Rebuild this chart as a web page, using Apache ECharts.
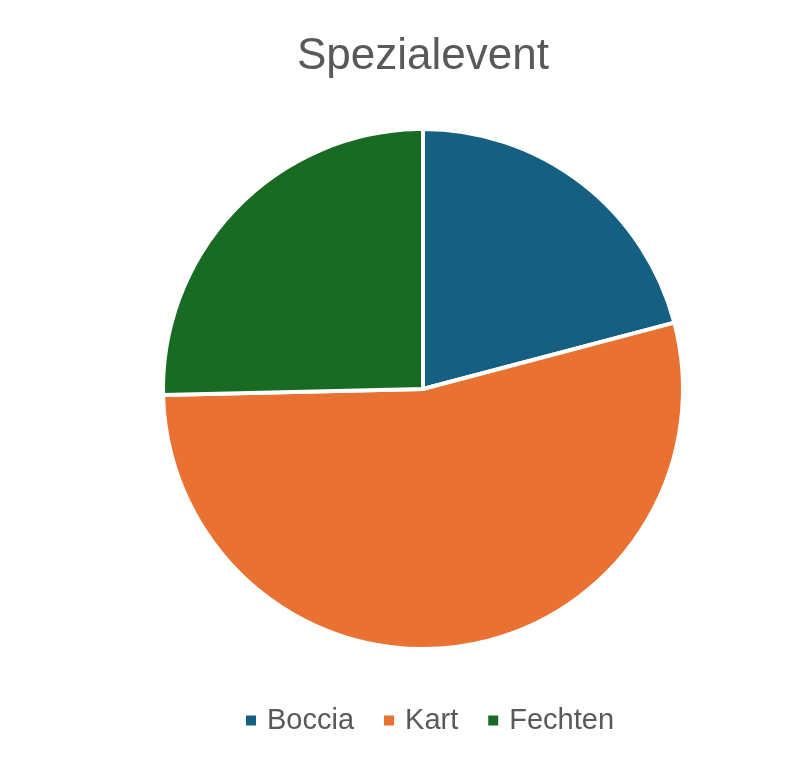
<!DOCTYPE html>
<html>
<head>
<meta charset="utf-8">
<script src="https://cdn.jsdelivr.net/npm/echarts@6/dist/echarts.min.js"></script>
<style>html,body{margin:0;padding:0;background:#fff;}#c{width:801px;height:765px;}</style>
</head>
<body>
<div id="c"></div>
<script>
const categories = ['Boccia', 'Kart', 'Fechten'];
const values = [14, 36, 17];
const colors = ['#156082', '#E97132', '#196B24'];
const titleText = 'Spezialevent';

const chart = echarts.init(document.getElementById('c'), null, {renderer: 'canvas'});
chart.setOption({
  animation: false,
  backgroundColor: '#ffffff',
  title: {
    text: titleText,
    left: 297,
    top: 35,
    padding: 0,
    textStyle: {fontFamily: 'Liberation Sans, Arial, sans-serif', fontSize: 44, fontWeight: 'normal', color: '#595959'}
  },
  legend: {
    data: categories,
    left: 244,
    top: 706,
    padding: 0,
    itemWidth: 12,
    itemHeight: 12,
    itemGap: 28,
    icon: 'rect',
    textStyle: {fontFamily: 'Liberation Sans, Arial, sans-serif', fontSize: 29, color: '#595959', padding: [0, 0, 0, 5]}
  },
  series: [{
    type: 'pie',
    center: [423, 389],
    radius: [0, 260],
    startAngle: 90,
    clockwise: true,
    label: {show: false},
    labelLine: {show: false},
    emphasis: {disabled: true},
    itemStyle: {borderColor: '#ffffff', borderWidth: 4},
    data: categories.map((c, i) => ({name: c, value: values[i], itemStyle: {color: colors[i]}}))
  }]
});
</script>
</body>
</html>
